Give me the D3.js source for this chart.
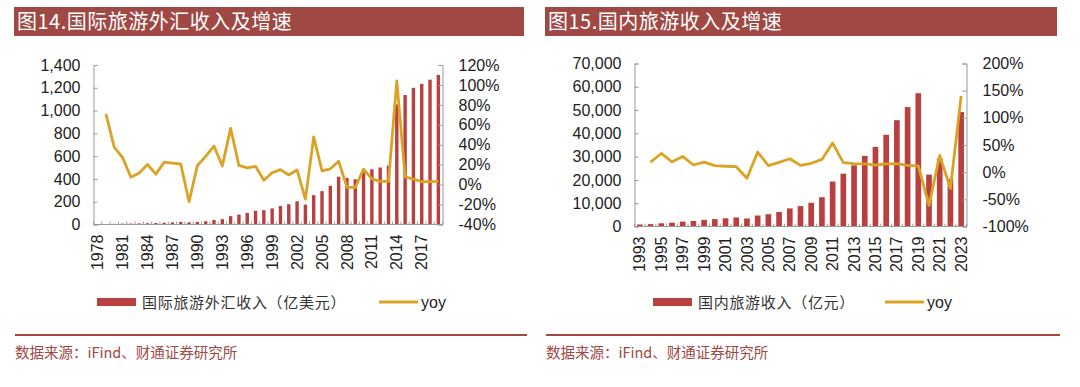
<!DOCTYPE html>
<meta charset="utf-8">
<html>
<head>
<style>
  body { margin: 0; background: #fff; }
  svg text { font-family: "Liberation Sans", Arial, sans-serif; fill: #222; }
  .cjk { font-family: "Noto Sans CJK SC", sans-serif; }
</style>
</head>
<body>
<svg width="1080" height="387" id="chart"></svg>
<script src="https://d3js.org/d3.v7.min.js"></script>
<script>
// ---- data: international tourism receipts (亿美元), 1978-2019
var intlYears = d3.range(1978, 2020).map(String);
var intlIncome = [2.63, 4.49, 6.17, 7.85, 8.43, 9.41, 11.31, 12.5, 15.31, 18.62,
  22.47, 18.6, 22.18, 28.45, 39.47, 46.83, 73.23, 87.33, 102, 120.74,
  126.02, 140.99, 162.24, 177.92, 203.85, 174.06, 257.39, 292.96, 339.49, 419.19,
  408.43, 396.75, 458.14, 484.64, 500.28, 516.64, 1053.8, 1136.5, 1200, 1234.17,
  1271, 1313];
var intlYoy = [null, 70.7, 37.4, 27.2, 7.4, 11.6, 20.2, 10.5, 22.5, 21.6,
  20.7, -17.2, 19.2, 28.3, 38.7, 18.6, 56.4, 19.3, 16.8, 18.4,
  4.4, 11.9, 15.1, 9.7, 14.6, -14.6, 47.9, 13.8, 15.9, 23.5,
  -2.6, -2.9, 15.5, 5.8, 3.2, 3.3, 104, 7.8, 5.6, 2.9,
  3.0, 3.3];
var intlLeftTicks = [0, 200, 400, 600, 800, 1000, 1200, 1400];
var intlRightTicks = [-40, -20, 0, 20, 40, 60, 80, 100, 120];

// ---- data: domestic tourism income (亿元), 1993-2023
var domYears = d3.range(1993, 2024).map(String);
var domIncome = [864, 1024, 1376, 1638, 2113, 2391, 2832, 3176, 3522, 3878,
  3442, 4711, 5286, 6230, 7771, 8749, 10184, 12580, 19305, 22706,
  26276, 30312, 34195, 39390, 45661, 51278, 57251, 22286, 29191, 20444,
  49133];
var domYoy = [null, 18.5, 34.4, 19.0, 29.0, 13.2, 18.4, 12.1, 10.9, 10.1,
  -11.2, 36.9, 12.2, 17.9, 24.7, 12.6, 16.4, 23.5, 53.5, 17.6,
  15.7, 15.4, 12.8, 15.2, 15.9, 12.3, 11.7, -61.1, 31.0, -30.0,
  140.3];
var domLeftTicks = [0, 10000, 20000, 30000, 40000, 50000, 60000, 70000];
var domRightTicks = [-100, -50, 0, 50, 100, 150, 200];

var barColor = "#b8413f",
    lineColor = "#dba324",
    brown = "#a04843",
    axisColor = "#9a9a9a";

var svg = d3.select("#chart");

function drawPanel(o) {
  var g = svg.append("g");

  // title bar
  g.append("rect")
    .attr("x", o.titleX).attr("y", 7)
    .attr("width", o.titleW).attr("height", 29)
    .attr("fill", brown);
  g.append("text")
    .attr("class", "cjk")
    .attr("x", o.titleX + 3).attr("y", 29)
    .style("font-size", "20px")
    .style("letter-spacing", "0.5px")
    .style("fill", "#fff")
    .text(o.title);

  var x = d3.scaleBand().domain(o.years)
    .range([o.x0, o.x1]).paddingInner(o.pad).paddingOuter(o.pad / 2);
  var yL = d3.scaleLinear().domain(d3.extent(o.leftTicks)).range([o.y1, o.y0]);
  var yR = d3.scaleLinear().domain(d3.extent(o.rightTicks)).range([o.y1, o.y0]);

  // bars
  g.selectAll(".bar")
    .data(o.years)
    .enter().append("rect")
    .attr("x", function (d) { return x(d); })
    .attr("y", function (d, i) { return yL(o.income[i]); })
    .attr("width", x.bandwidth())
    .attr("height", function (d, i) { return yL(0) - yL(o.income[i]); })
    .attr("fill", barColor);

  // left axis
  var ax = g.append("g")
    .attr("transform", "translate(" + o.x0 + ",0)")
    .call(d3.axisLeft(yL).tickValues(o.leftTicks).tickSize(-4).tickPadding(13)
      .tickFormat(d3.format(",")));
  // right axis
  var axR = g.append("g")
    .attr("transform", "translate(" + o.x1 + ",0)")
    .call(d3.axisRight(yR).tickValues(o.rightTicks).tickSize(-4).tickPadding(16)
      .tickFormat(function (d) { return d + "%"; }));
  [ax, axR].forEach(function (a) {
    a.select(".domain").attr("stroke", axisColor);
    a.selectAll(".tick line").attr("stroke", axisColor);
    a.selectAll("text").style("font-size", "16px").style("fill", "#222")
      .style("font-family", '"Liberation Sans", Arial, sans-serif');
  });

  // x axis baseline + category ticks
  g.append("line")
    .attr("x1", o.x0).attr("x2", o.x1)
    .attr("y1", o.y1).attr("y2", o.y1)
    .attr("stroke", axisColor);
  var step = x.step();
  g.selectAll(".xtick")
    .data(d3.range(o.years.length + 1))
    .enter().append("line")
    .attr("x1", function (i) { return o.x0 + i * step; })
    .attr("x2", function (i) { return o.x0 + i * step; })
    .attr("y1", o.y1).attr("y2", o.y1 - 3)
    .attr("stroke", axisColor);

  g.selectAll(".xlabel")
    .data(o.years.filter(function (d, i) { return i % o.every === 0; }))
    .enter().append("text")
    .attr("transform", function (d) {
      return "translate(" + (x(d) + x.bandwidth() / 2) + "," + (o.y1 + 10) + ") rotate(-90)";
    })
    .attr("text-anchor", "end")
    .attr("dy", "0.35em")
    .style("font-size", "16px")
    .text(function (d) { return d; });

  // yoy line
  var line = d3.line()
    .defined(function (d) { return d != null; })
    .x(function (d, i) { return x(o.years[i]) + x.bandwidth() / 2; })
    .y(function (d) { return yR(d); });
  g.append("path")
    .datum(o.yoy)
    .attr("fill", "none")
    .attr("stroke", lineColor)
    .attr("stroke-width", 2.8)
    .attr("stroke-linejoin", "round")
    .attr("d", line);

  // legend
  g.append("rect")
    .attr("x", o.legX).attr("y", 298)
    .attr("width", 39).attr("height", 8)
    .attr("fill", barColor);
  g.append("text")
    .attr("class", "cjk")
    .attr("x", o.legX + 45).attr("y", 308)
    .style("font-size", "15px")
    .style("letter-spacing", "0.7px")
    .style("fill", "#333")
    .text(o.legend);
  g.append("line")
    .attr("x1", o.legLineX).attr("x2", o.legLineX + 39)
    .attr("y1", 302).attr("y2", 302)
    .attr("stroke", lineColor).attr("stroke-width", 2.8);
  g.append("text")
    .attr("x", o.legLineX + 42).attr("y", 308)
    .style("font-size", "16px")
    .text("yoy");

  // footer rule and source
  g.append("line")
    .attr("x1", o.titleX + 1).attr("x2", o.titleX + o.titleW + 3)
    .attr("y1", 335).attr("y2", 335)
    .attr("stroke", brown).attr("stroke-width", 2);
  g.append("text")
    .attr("class", "cjk")
    .attr("x", o.titleX + 1).attr("y", 358)
    .style("font-size", "14.5px")
    .style("fill", brown)
    .text("数据来源：iFind、财通证券研究所");
}

drawPanel({
  title: "图14.国际旅游外汇收入及增速",
  titleX: 14, titleW: 510,
  years: intlYears, income: intlIncome, yoy: intlYoy,
  leftTicks: intlLeftTicks, rightTicks: intlRightTicks,
  x0: 93.5, x1: 442.5, y0: 65, y1: 224.5,
  pad: 0.59, every: 3,
  legend: "国际旅游外汇收入（亿美元）",
  legX: 97, legLineX: 379
});

drawPanel({
  title: "图15.国内旅游收入及增速",
  titleX: 545, titleW: 512,
  years: domYears, income: domIncome, yoy: domYoy,
  leftTicks: domLeftTicks, rightTicks: domRightTicks,
  x0: 634.5, x1: 966.5, y0: 63.5, y1: 226.5,
  pad: 0.47, every: 2,
  legend: "国内旅游收入（亿元）",
  legX: 653, legLineX: 885
});
</script>
</body>
</html>
